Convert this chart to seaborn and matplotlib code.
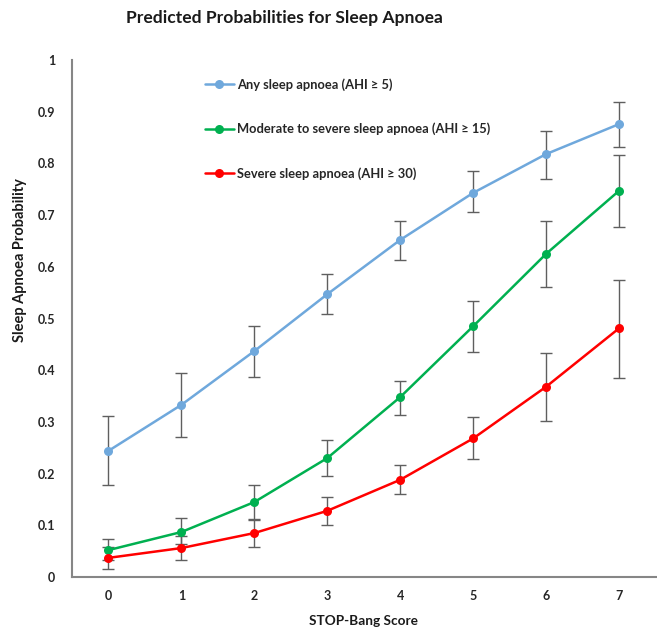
import numpy as np
import pandas as pd
import matplotlib
matplotlib.use("Agg")
import matplotlib.pyplot as plt
import seaborn as sns

scores = [0, 1, 2, 3, 4, 5, 6, 7]
series_names = ["Any sleep apnoea (AHI \u2265 5)",
                "Moderate to severe sleep apnoea (AHI \u2265 15)",
                "Severe sleep apnoea (AHI \u2265 30)"]

any_p = [0.244, 0.333, 0.437, 0.547, 0.652, 0.743, 0.818, 0.876]
any_lo = [0.178, 0.271, 0.387, 0.509, 0.613, 0.706, 0.770, 0.832]
any_hi = [0.311, 0.395, 0.486, 0.586, 0.689, 0.785, 0.863, 0.919]

mod_p = [0.052, 0.087, 0.145, 0.230, 0.348, 0.485, 0.625, 0.747]
mod_lo = [0.032, 0.063, 0.110, 0.195, 0.313, 0.435, 0.561, 0.677]
mod_hi = [0.074, 0.114, 0.178, 0.265, 0.379, 0.534, 0.689, 0.816]

sev_p = [0.037, 0.056, 0.085, 0.128, 0.188, 0.268, 0.368, 0.481]
sev_lo = [0.016, 0.033, 0.058, 0.100, 0.160, 0.228, 0.302, 0.385]
sev_hi = [0.058, 0.080, 0.112, 0.155, 0.217, 0.309, 0.433, 0.574]

colors = ["#6FA8DC", "#00B050", "#FF0000"]

sns.set_style("white")
plt.rcParams['font.family'] = ['Lato', 'DejaVu Sans']

frames = []
for name, p, lo, hi in zip(series_names, [any_p, mod_p, sev_p],
                           [any_lo, mod_lo, sev_lo], [any_hi, mod_hi, sev_hi]):
    frames.append(pd.DataFrame({"score": scores, "prob": p, "lo": lo, "hi": hi,
                                "series": name}))
df = pd.concat(frames, ignore_index=True)

fig = plt.figure(figsize=(6.57, 6.30), dpi=100)
ax = fig.add_axes([72/657, 53/630, (655.5-72)/657, (577-60)/630])

# error bars
for name in series_names:
    d = df[df.series == name]
    ax.errorbar(d.score, d.prob, yerr=[d.prob - d.lo, d.hi - d.prob],
                fmt="none", ecolor="#5f5f5f", elinewidth=1.0, capsize=4,
                capthick=1.0, zorder=1)

sns.lineplot(data=df, x="score", y="prob", hue="series", hue_order=series_names,
             palette=colors, marker="o", markersize=6.5, markeredgewidth=0,
             linewidth=1.8, ax=ax, zorder=3, legend=True)

ax.set_xlim(-0.5, 7.5)
ax.set_ylim(0, 1)
ax.set_xticks(scores)
ax.set_xticklabels([str(s) for s in scores])
ax.set_yticks(np.round(np.arange(0, 1.01, 0.1), 1))
ax.set_yticklabels(["0", "0.1", "0.2", "0.3", "0.4", "0.5", "0.6", "0.7", "0.8", "0.9", "1"])
for lab in ax.get_xticklabels() + ax.get_yticklabels():
    lab.set_fontweight("bold")
    lab.set_fontsize(9)
    lab.set_color("#262626")
ax.tick_params(axis="both", length=0, pad=9)
ax.tick_params(axis="y", pad=12)

for s in ["top", "right"]:
    ax.spines[s].set_visible(False)
for s in ["left", "bottom"]:
    ax.spines[s].set_color("#868686")
    ax.spines[s].set_linewidth(1.5)

ax.set_xlabel("STOP-Bang Score", fontsize=9.8, fontweight="bold", color="#1a1a1a",
              va="center")
ax.set_ylabel("Sleep Apnoea Probability", fontsize=10.5, fontweight="bold",
              color="#1a1a1a", va="center")
ax.xaxis.set_label_coords(0.5, (577-621)/517)
ax.yaxis.set_label_coords((20-72)/583.5, (577-260)/517)

fig.text(284/657, 1 - 18/630, "Predicted Probabilities for Sleep Apnoea",
         ha="center", va="center", fontsize=12.6, fontweight="bold", color="#1a1a1a")

leg = ax.legend(loc="upper left", bbox_to_anchor=((200-72)/583.5, 1 - 13/517),
                frameon=False, fontsize=9.3, handlelength=2.2, handletextpad=0.3,
                labelspacing=2.45, borderaxespad=0)
for t in leg.get_texts():
    t.set_fontweight("bold")
    t.set_color("#262626")

fig.savefig("out.png", dpi=100, facecolor="white")
